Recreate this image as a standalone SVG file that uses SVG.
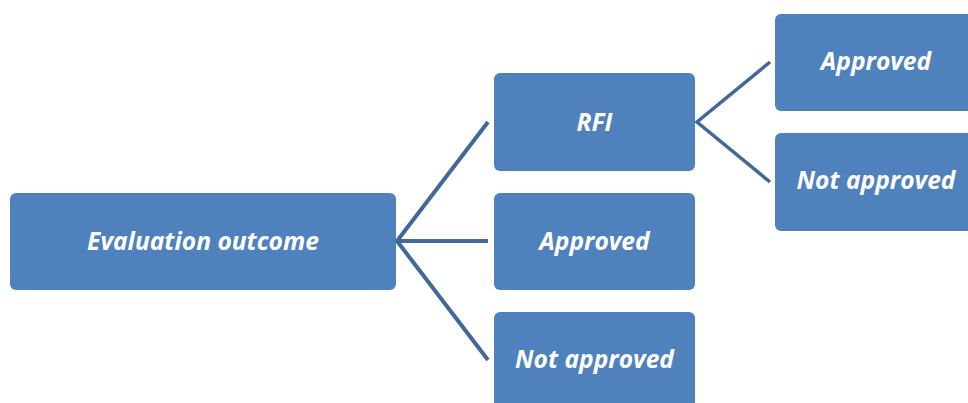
<svg xmlns="http://www.w3.org/2000/svg" width="968" height="403" viewBox="0 0 968 403">
<style>
.box{fill:#4F81BD}
.lbl{font-family:"Open Sans","Liberation Sans",sans-serif;font-weight:bold;font-style:italic;font-size:24.6px;fill:#ffffff;text-anchor:middle}
.con{stroke:#41679B;stroke-width:4;fill:none;stroke-linejoin:miter}
</style>
<rect width="968" height="403" fill="#ffffff"/>
<g id="connectors">
<polyline class="con" points="488,122 397,241 488,360"/>
<line class="con" x1="397" y1="241" x2="488" y2="241"/>
<polyline class="con" points="770,62 697,122 770,182" style="stroke-width:3.5"/>
</g>
<g id="n-eval"><rect class="box" x="10" y="193" width="386" height="97" rx="6"/><text class="lbl" x="203" y="250">Evaluation outcome</text></g>
<g id="n-rfi"><rect class="box" x="494" y="73" width="201" height="98" rx="6"/><text class="lbl" x="594.5" y="131">RFI</text></g>
<g id="n-approved"><rect class="box" x="494" y="193" width="201" height="97" rx="6"/><text class="lbl" x="594.5" y="250">Approved</text></g>
<g id="n-notapproved"><rect class="box" x="494" y="312" width="201" height="98" rx="6"/><text class="lbl" x="594.5" y="368">Not approved</text></g>
<g id="n-rfi-approved"><rect class="box" x="775" y="14" width="201" height="97" rx="6"/><text class="lbl" x="876" y="70">Approved</text></g>
<g id="n-rfi-notapproved"><rect class="box" x="775" y="133" width="201" height="98" rx="6"/><text class="lbl" x="876" y="189">Not approved</text></g>
</svg>
